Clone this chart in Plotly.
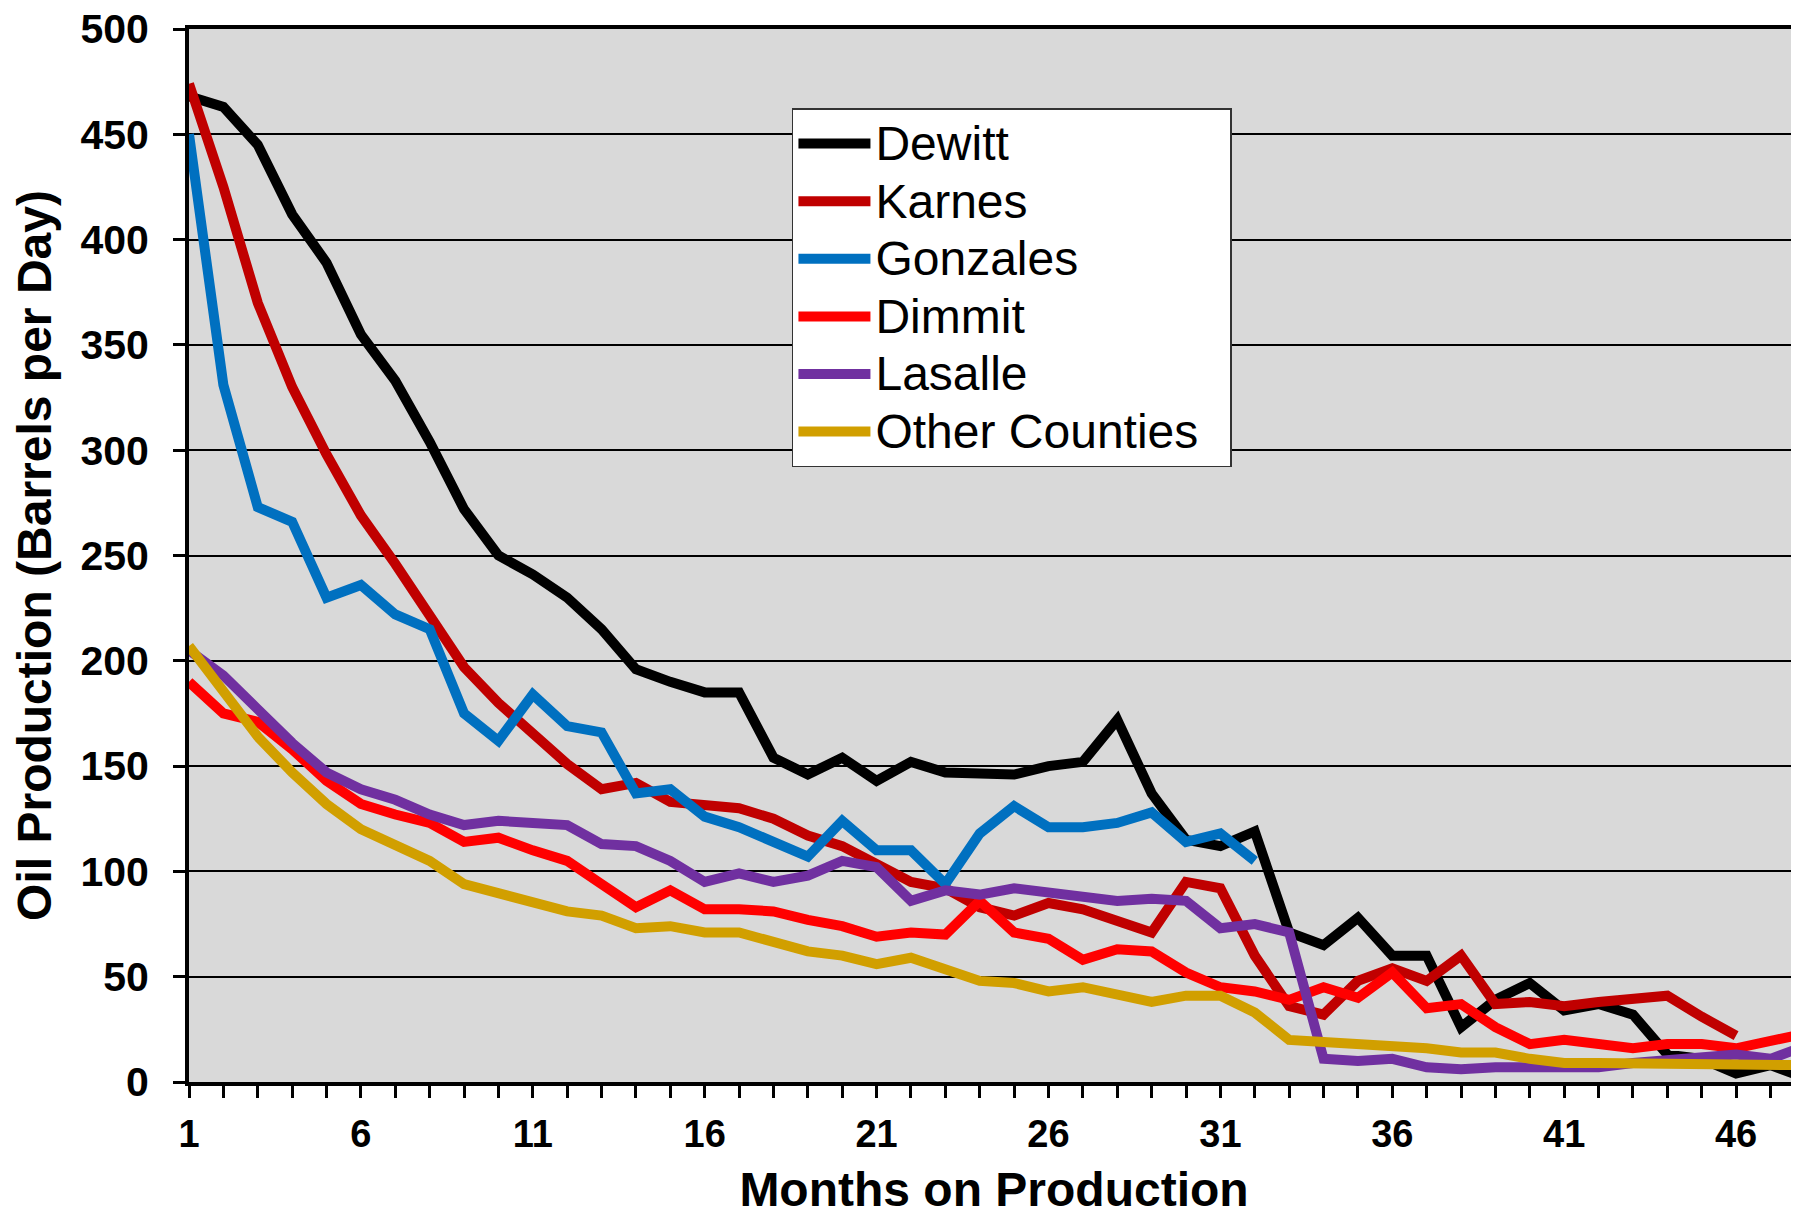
import plotly.graph_objects as go

months = list(range(1, 49))

dewitt = [468, 463, 445, 412, 389, 355, 333, 304, 272, 250, 241, 230, 215, 196, 190, 185,
          185, 154, 146, 154, 143, 152, 147, 147, 146, 150, 152, 172, 137, 115, 112, 119,
          71, 65, 78, 60, 60, 26, 39, 47, 34, 37, 32, 13, 11, 4, 8, 2]
karnes = [474, 425, 370, 330, 298, 269, 246, 221, 197, 180, 166, 151, 139, 142, 133, 131,
          130, 125, 117, 112, 104, 95, 92, 83, 79, 85, 82, 76, 71, 95, 92, 60,
          36, 32, 48, 54, 48, 60, 37, 38, 36, 38, 39, 41, 31, 22]
gonzales = [450, 331, 273, 266, 230, 236, 222, 215, 175, 162, 184, 169, 166, 137, 139, 126,
            121, 114, 107, 124, 110, 110, 94, 118, 131, 121, 121, 123, 128, 114, 118, 105]
dimmit = [190, 175, 171, 158, 143, 132, 127, 123, 114, 116, 110, 105, 94, 83, 91, 82,
          82, 81, 77, 74, 69, 71, 70, 86, 71, 68, 58, 63, 62, 52, 45, 43,
          39, 45, 40, 52, 35, 37, 26, 18, 20, 18, 16, 18, 18, 16, 20, 23]
lasalle = [205, 193, 177, 161, 147, 139, 134, 127, 122, 124, 123, 122, 113, 112, 105, 95,
           99, 95, 98, 105, 102, 86, 91, 89, 92, 90, 88, 86, 87, 86, 73, 75,
           71, 11, 10, 11, 7, 6, 7, 7, 6, 7, 9, 10, 11, 13, 11, 17]
other = [207, 186, 164, 147, 132, 120, 113, 105, 94, 90, 85, 81, 79, 73, 74, 71,
         71, 67, 62, 60, 56, 59, 53, 48, 47, 43, 45, 42, 38, 41, 41, 33,
         20, 19, 18, 18, 16, 14, 14, 11, 9, 9, 9, 9, 9, 8, 8, 8]

series_names = ["Dewitt", "Karnes", "Gonzales", "Dimmit", "Lasalle", "Other Counties"]
series_values = [dewitt, karnes, gonzales, dimmit, lasalle, other]
series_colors = ["#000000", "#C00000", "#0070C0", "#FF0000", "#7030A0", "#D19F00"]

x_tick_labels = [str(m) if (m - 1) % 5 == 0 else "" for m in months]
y_ticks = list(range(0, 501, 50))

font = "Liberation Sans, Arial, sans-serif"

fig = go.Figure()
for name, vals, col in zip(series_names, series_values, series_colors):
    # bigger text than the legend font keeps the rows tight like the original
    label = '<span style="font-size:48px">' + name + "\u00a0\u00a0</span>"
    fig.add_trace(go.Scatter(x=months[:len(vals)], y=vals, name=label, mode="lines",
                             line=dict(color=col, width=10)))

# page body adds a small offset, margins compensate
fig.update_layout(
    width=1799, height=1215,
    margin=dict(l=181, r=8, t=21, b=141),
    paper_bgcolor="white",
    plot_bgcolor="#D9D9D9",
    font=dict(family=font, color="black"),
    showlegend=True,
    legend=dict(x=0.3745, y=0.9247, xanchor="left", yanchor="top",
                bgcolor="white", bordercolor="#333333", borderwidth=1.5,
                font=dict(size=42, family=font), tracegroupgap=0, itemwidth=72),
)
fig.update_xaxes(
    range=[1, 47.83], automargin=False,
    tickmode="array", tickvals=months, ticktext=x_tick_labels,
    ticks="outside", ticklen=12, tickwidth=3, tickcolor="black",
    tickfont=dict(size=38, family=font, weight="bold"),
    ticklabelstandoff=3,
    showline=True, linewidth=4, linecolor="black", mirror=True,
    showgrid=False, zeroline=False,
    title=dict(text="<b>Months on Production</b>", font=dict(size=48), standoff=20),
)
fig.update_yaxes(
    range=[0, 500], automargin=False,
    tickmode="array", tickvals=y_ticks,
    ticks="outside", ticklen=12, tickwidth=3, tickcolor="black",
    tickfont=dict(size=41, family=font, weight="bold"),
    ticklabelstandoff=16, ticklabeloverflow="allow",
    showline=True, linewidth=4, linecolor="black",
    showgrid=True, gridcolor="#000000", gridwidth=1.5, zeroline=False,
    title=dict(text="<b>Oil Production (Barrels per Day)</b>", font=dict(size=48), standoff=20),
)

fig.write_html("out.html")
